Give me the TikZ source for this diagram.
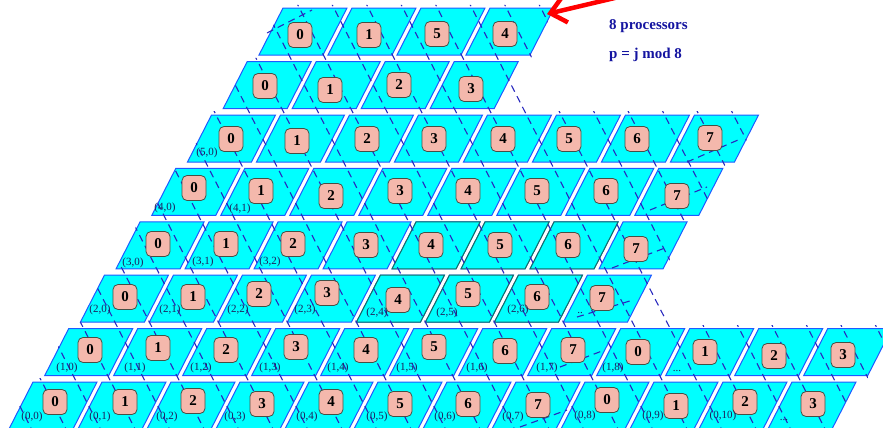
\documentclass[tikz,border=0pt]{standalone}
\usepackage{fontspec}
\setmainfont{Liberation Serif}
\usetikzlibrary{arrows.meta}
\definecolor{tilefill}{RGB}{0,255,255}
\definecolor{tileedge}{RGB}{30,90,255}
\definecolor{tileedgeg}{RGB}{20,110,100}
\definecolor{boxfill}{RGB}{244,184,172}
\definecolor{boxedge}{RGB}{70,80,70}
\definecolor{dashblue}{RGB}{40,40,190}
\definecolor{txtblue}{RGB}{20,20,160}
\definecolor{coordtxt}{RGB}{30,30,90}
\tikzset{
 tile/.style={fill=tilefill, draw=tileedge, line width=1pt},
 tileg/.style={fill=tilefill, draw=tileedgeg, line width=1pt},
 proc/.style={draw=boxedge, fill=boxfill, rounded corners=5pt, minimum width=24pt, minimum height=25pt, inner sep=0pt, font=\fontsize{15}{15}\selectfont\bfseries, line width=0.8pt},
 ij/.style={font=\fontsize{11}{11}\selectfont, text=coordtxt, inner sep=0pt},
 wave/.style={draw=dashblue, dash pattern=on 7pt off 5pt, line width=1.1pt},
 note/.style={font=\fontsize{15}{15}\selectfont\bfseries, text=txtblue, anchor=west, inner sep=0pt},
}
\begin{document}
\begin{tikzpicture}[x=1pt,y=-1pt]
\useasboundingbox (0,0) rectangle (883,428);
% tiles
\foreach \r/\n in {0/11,1/11,2/7,3/7,4/7,5/7,6/3,7/3} {
  \foreach \j in {0,...,\n} {
    \pgfmathsetmacro\X{33+35.7*\r+69*\j}
    \pgfmathsetmacro\T{382-53.4*\r}
    \draw[tile] (\X,\T) -- ++(64,0) -- ++(-24,47) -- ++(-64,0) -- cycle;
  }
}
% tiles with darker borders
\foreach \r/\j in {2/4,2/5,2/6,3/4,3/5,3/6} {
    \pgfmathsetmacro\X{33+35.7*\r+69*\j}
    \pgfmathsetmacro\T{382-53.4*\r}
    \draw[tileg] (\X,\T) -- ++(64,0) -- ++(-24,47) -- ++(-64,0) -- cycle;
}
% dashed lines
\begin{scope}
\clip (33,378) -- (858,378) -- (834,430) -- (7,430) -- cycle
      (69,325) -- (894,325) -- (868,378) -- (43,378) -- cycle
      (104,272) -- (670,272) -- (690,325) -- (79,325) -- cycle
      (140,218) -- (689,218) -- (664,272) -- (115,272) -- cycle
      (176,165) -- (725,165) -- (700,218) -- (151,218) -- cycle
      (211,111) -- (760,111) -- (735,165) -- (186,165) -- cycle
      (247,58) -- (520,58) -- (545,111) -- (222,111) -- cycle
      (283,5) -- (556,5) -- (531,58) -- (258,58) -- cycle;
\foreach \k in {-6,...,27} {
  \coordinate (wa\k) at ({-49.7+34.5*\k},0);
  \coordinate (wb\k) at ({169+34.5*\k},428);
  \draw[wave] (wa\k) -- (wb\k);
}
\end{scope}
% shallow dashed segments
\foreach \a/\b/\c/\d [count=\s] in {267/33/312/10, 687/162/738/140, 650/210/707/187, 612/268/665/248, 577/317/633/300, 560/367/602/351, 520/427/567/410}{
  \coordinate (sa\s) at (\a,\b);
  \coordinate (sb\s) at (\c,\d);
  \draw[wave] (sa\s) -- (sb\s);
}
% processor labels
\foreach \v/\x/\y [count=\c] in {0/300/35,1/369/35,5/437/34,4/505/34,
  0/265/86,1/330/90,2/399/85,3/471/89,
  0/231/139,1/297/141,2/367/139,3/434/139,4/503/139,5/569/139,6/637/139,7/710/138,
  0/194/188,1/261/191,2/331/196,3/400/191,4/468/191,5/537/191,6/606/191,7/677/196,
  0/158/244,1/226/244,2/293/244,3/366/245,4/431/245,5/500/245,6/568/245,7/636/249,
  0/125/297,1/193/297,2/259/294,3/327/293,4/398/300,5/468/294,6/537/297,7/602/298,
  0/90/350,1/158/348,2/226/350,3/296/347,4/366/350,5/434/347,6/505/351,7/573/350,0/638/352,1/705/352,2/774/356,3/843/355,
  0/55/402,1/125/402,2/193/401,3/262/404,4/331/402,5/400/404,6/468/404,7/538/405,0/607/400,1/676/406,2/745/402,3/813/404}
  \node[proc] (p\c) at (\x,\y) {\v};
% coordinate labels
\foreach \t/\x/\y [count=\c] in {{(0,0)}/32/417,{(0,1)}/100/417,{(0,2)}/167/417,{(0,3)}/235/417,{(0,4)}/307/417,{(0,5)}/377/417,{(0,6)}/445/417,{(0,7)}/513/417,{(0,8)}/585/416,{(0,9)}/653/416,{(0,10)}/723/416,{...}/784/420,
  {(1,0)}/67/368,{(1,1)}/135/368,{(1,2)}/201/368,{(1,3)}/270/368,{(1,4)}/338/368,{(1,5)}/407/368,{(1,6)}/477/368,{(1,7)}/547/368,{(1,8)}/613/368,{...}/677/371,
  {(2,0)}/100/310,{(2,1)}/170/310,{(2,2)}/238/310,{(2,3)}/305/310,{(2,4)}/377/313,{(2,5)}/447/313,{(2,6)}/518/310,{..}/580/313,
  {(3,0)}/133/263,{(3,1)}/203/262,{(3,2)}/270/262,
  {(4,0)}/165/208,{(4,1)}/240/209,
  {(5,0)}/207/153}
  \node[ij] (c\c) at (\x,\y) {\t};
% notes
\node[note] (n1) at (609,26) {8 processors};
\node[note] (n2) at (609,55) {p = j mod 8};
% red arrow
\coordinate (atail) at (640,-8);
\coordinate (atip) at (547,14);
\draw[red, line width=4.5pt, -{Straight Barb[length=15pt,width=26pt]}] (atail) -- (atip);
\end{tikzpicture}
\end{document}
